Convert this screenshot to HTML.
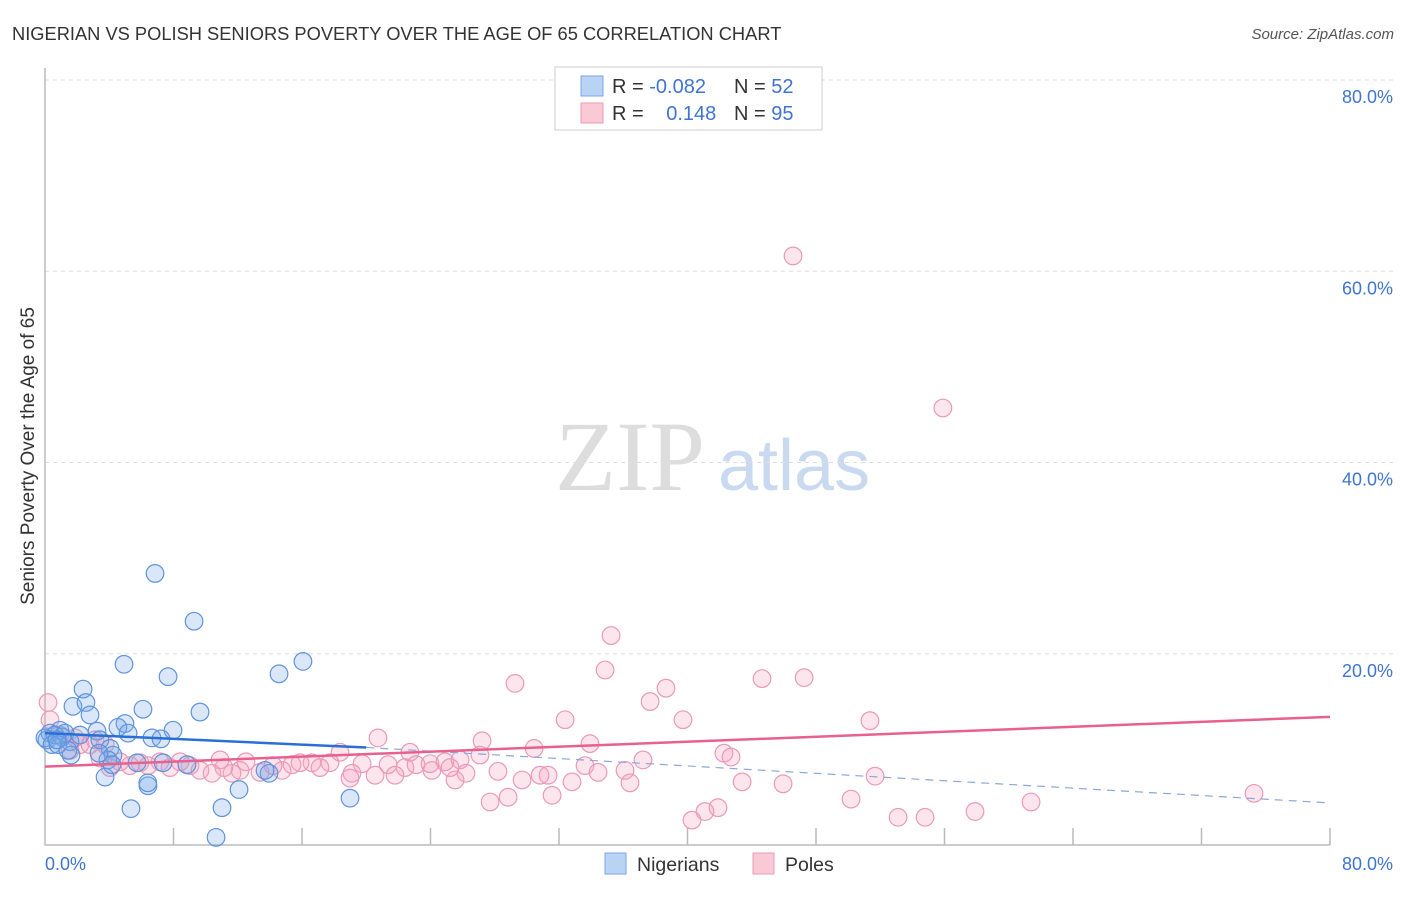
<!DOCTYPE html>
<html><head><meta charset="utf-8"><style>
body{margin:0;background:#fff;font-family:"Liberation Sans",sans-serif}
</style></head><body>
<svg width="1406" height="892" xmlns="http://www.w3.org/2000/svg">
<text x="12" y="40" font-size="18.3" fill="#333">NIGERIAN VS POLISH SENIORS POVERTY OVER THE AGE OF 65 CORRELATION CHART</text>
<text x="1394" y="39" font-size="15" fill="#555" font-style="italic" text-anchor="end">Source: ZipAtlas.com</text>
<text x="555" y="490" font-size="100" fill="#ddd" font-family="Liberation Serif,serif">ZIP</text>
<text x="718" y="490" font-size="72" fill="#c8d9f0">atlas</text>
<g id="grid"></g>
<g id="pts"></g>
<g id="lines"></g>
<text transform="translate(34,456) rotate(-90)" font-size="19" fill="#333" text-anchor="middle">Seniors Poverty Over the Age of 65</text>
<text x="45" y="870" font-size="18" fill="#3f74d1">0.0%</text>
<text x="1393" y="870" font-size="18" fill="#3f74d1" text-anchor="end">80.0%</text>
<g>
<rect x="555" y="67" width="267" height="63" fill="#fff" stroke="#ccc"/>
<rect x="581" y="76" width="22" height="20" fill="#b9d3f5" stroke="#7aa6e6"/>
<rect x="581" y="103" width="22" height="20" fill="#f9c9d8" stroke="#ec9ab5"/>
<text x="612" y="93" font-size="20" fill="#333">R = <tspan fill="#3f74d1">-0.082</tspan></text>
<text x="734" y="93" font-size="20" fill="#333">N = <tspan fill="#3f74d1">52</tspan></text>
<text x="612" y="120" font-size="20" fill="#333">R = <tspan fill="#3f74d1" dx="17">0.148</tspan></text>
<text x="734" y="120" font-size="20" fill="#333">N = <tspan fill="#3f74d1">95</tspan></text>
</g>
<g>
<rect x="605" y="853" width="21" height="21" fill="#b9d3f5" stroke="#7aa6e6"/>
<text x="637" y="871" font-size="19.5" fill="#333">Nigerians</text>
<rect x="753" y="853" width="21" height="21" fill="#f9c9d8" stroke="#ec9ab5"/>
<text x="785" y="871" font-size="19.5" fill="#333">Poles</text>
</g>
</svg>
<script>
const yTicks=[20,40,60,80];
const yTickLabels=["20.0%","40.0%","60.0%","80.0%"];
const xTicks=[8,16,24,32,40,48,56,64,72,80];
const blueX=[6.85,9.28,4.92,16.06,14.57,7.66,2.37,1.74,2.55,6.10,9.65,2.80,4.98,4.54,7.97,0.93,0.31,3.24,5.17,6.66,7.22,0.12,1.56,3.42,4.05,4.23,1.62,3.92,5.73,7.35,8.84,13.95,3.74,6.41,12.08,5.35,11.02,18.99,10.65,1.06,0.62,1.25,2.18,3.36,4.17,13.70,0,0.44,0.81,1.43,6.4,0.75];
const blueY=[28.4,23.4,18.9,19.2,17.9,17.6,16.3,14.5,14.9,14.2,13.9,13.6,12.7,12.3,12.0,12.0,11.7,11.9,11.7,11.2,11.1,11.0,10.8,11.0,10.1,9.4,9.4,8.9,8.6,8.6,8.4,7.5,7.1,6.2,5.8,3.8,3.9,4.9,0.8,11.3,11.5,11.7,11.5,9.6,8.4,7.8,11.2,10.5,10.5,9.9,6.5,11.0];
const pinkX=[46.57,55.9,35.24,34.87,29.26,38.66,44.64,47.26,37.67,32.38,39.72,51.36,20.73,27.21,33.93,30.45,22.72,27.08,18.37,42.27,42.71,37.23,33.62,36.11,34.43,30.82,31.32,26.21,24.09,28.20,22.41,21.36,20.55,19.74,19.11,17.74,16.62,15.88,15.38,14.76,14.20,13.39,12.51,12.14,11.64,11.14,10.40,9.65,9.03,8.41,7.78,7.16,6.41,5.91,5.29,4.67,3.42,4.05,2.18,1.56,0.19,0.31,0.93,2.80,51.68,43.40,45.95,36.42,29.70,32.81,25.53,25.22,21.79,18.99,31.57,28.83,27.71,50.18,61.39,75.27,57.90,41.90,41.09,40.28,53.11,54.79,23.10,23.97,24.90,25.84,17.12,1.87,3.11,3.74,10.90];
const pinkY=[61.6,45.7,21.9,18.3,16.9,16.4,17.4,17.5,15.0,13.1,13.1,13.0,11.2,10.9,10.6,10.1,9.7,9.4,9.7,9.6,9.2,8.9,8.3,7.8,7.6,7.3,7.3,7.5,7.8,7.7,8.1,8.4,7.3,8.5,7.5,8.6,8.6,8.6,8.4,7.8,8.3,7.6,8.7,7.8,7.5,8.1,7.5,7.8,8.3,8.7,8.1,8.7,8.3,8.6,8.3,8.7,9.1,8.1,10.5,9.9,14.9,13.1,11.5,10.5,7.2,6.6,6.4,6.5,6.8,6.6,6.8,8.1,7.3,7.0,5.2,5.0,4.5,4.8,4.5,5.4,3.5,3.9,3.5,2.6,2.9,2.9,8.4,8.5,8.7,8.9,8.1,11.2,11.0,10.5,8.9];
const blueTrend=[11.7,10.2,4.4];
const pinkTrend=[8.2,13.4];
const NS="http://www.w3.org/2000/svg";
const sx=v=>45+v/80*1285, sy=v=>845-v/20*191.25;
function mk(t,a,p){const e=document.createElementNS(NS,t);for(const k in a)e.setAttribute(k,a[k]);p.appendChild(e);return e;}
const grid=document.getElementById('grid');
yTicks.forEach((v,i)=>{
 const l=mk('line',{x1:45,x2:1393,y1:sy(v),y2:sy(v),stroke:'#ddd','stroke-dasharray':'4,4'},grid);
 
 
 const t=mk('text',{x:1393,y:sy(v)+23,'font-size':18,fill:'#3f74d1','text-anchor':'end'},grid);
 t.textContent=yTickLabels[i];
 
 
});
const ax=mk('path',{d:'M45 68V845H1330',fill:'none',stroke:'#bbb','stroke-width':1.5},grid);


xTicks.forEach(v=>{
 const l=mk('line',{x1:sx(v),x2:sx(v),y1:828,y2:845,stroke:'#bbb','stroke-width':1.5},grid);
 
 
});
const pts=document.getElementById('pts');
pinkX.forEach((x,i)=>{
 const c=mk('circle',{cx:sx(x),cy:sy(pinkY[i]),r:8.8,fill:'rgba(244,160,190,0.28)',stroke:'#ea9ab6','stroke-width':1.2},pts);
 
 
});
blueX.forEach((x,i)=>{
 const c=mk('circle',{cx:sx(x),cy:sy(blueY[i]),r:8.8,fill:'rgba(120,170,235,0.28)',stroke:'#5f93dc','stroke-width':1.2},pts);
 
 
});
const lines=document.getElementById('lines');
let e=mk('line',{x1:sx(20),y1:sy(blueTrend[1]),x2:sx(80),y2:sy(blueTrend[2]),stroke:'#8aa8d8','stroke-width':1.2,'stroke-dasharray':'8,6'},lines);


e=mk('line',{x1:sx(0),y1:sy(blueTrend[0]),x2:sx(20),y2:sy(blueTrend[1]),stroke:'#2a6fd6','stroke-width':2.5},lines);


e=mk('line',{x1:sx(0),y1:sy(pinkTrend[0]),x2:sx(80),y2:sy(pinkTrend[1]),stroke:'#e8608e','stroke-width':2.5},lines);


</script>
</body></html>
